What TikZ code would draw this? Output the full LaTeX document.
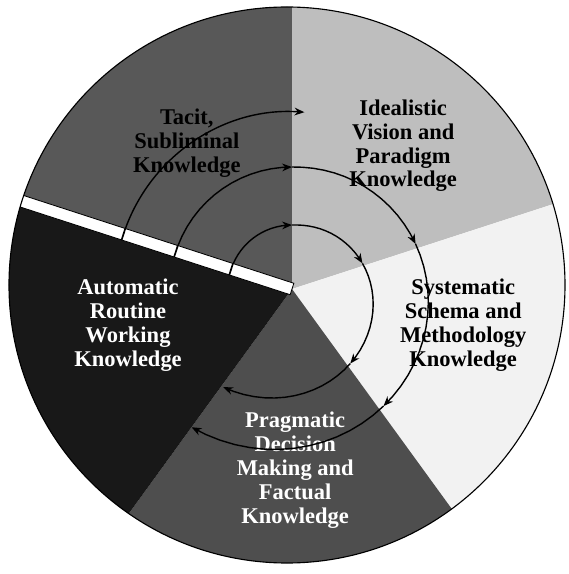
\documentclass[tikz,border=0pt]{standalone}
\usepackage{fontspec}
\setmainfont{Liberation Serif}
\usetikzlibrary{arrows.meta}
\definecolor{tacitgris}{RGB}{88,88,88}
\definecolor{idealgris}{RGB}{190,190,190}
\definecolor{sistgris}{RGB}{242,242,242}
\definecolor{pragmagris}{RGB}{78,78,78}
\definecolor{autogris}{RGB}{24,24,24}
\tikzset{
  espiral/.style={line width=1pt, -{Stealth[length=7pt,width=5.5pt]}},
  rotulo/.style={font=\fontsize{16}{17}\selectfont\bfseries, align=center},
  barra/.style={fill=white, draw=black, line width=0.6pt},
}
\begin{document}
\begin{tikzpicture}[declare function={crece(\t,\k)=\k*(max(0.001,90-\t))^1.45;}]
        \useasboundingbox (-7.3,-7.125) rectangle (6.9,7.225);
        \coordinate (c) at (0,0);
        \coordinate (m) at (-0.125,0.1);
        % Sectores del circulo
        \begin{scope}
          \clip (m) circle (6.95);
          \fill[tacitgris] (c) -- (90:9) arc (90:162:9) -- cycle;
          \fill[idealgris] (c) -- (18:9) arc (18:90:9) -- cycle;
          \fill[sistgris] (c) -- (-54:9) arc (-54:18:9) -- cycle;
          \fill[pragmagris] (c) -- (-126:9) arc (-126:-54:9) -- cycle;
          \fill[autogris] (c) -- (162:9) arc (162:234:9) -- cycle;
          \draw[barra, rotate=162] (0,-0.15) rectangle (9,0.15);
          \draw[line width=1.2pt, rotate=162] (1.6,-0.15) -- (1.6,0.15);
          \draw[line width=1.2pt, rotate=162] (3.05,-0.15) -- (3.05,0.15);
          \draw[line width=1.2pt, rotate=162] (4.43,-0.15) -- (4.43,0.15);
        \end{scope}
        \draw[line width=0.8pt] (m) circle (6.95);
        \node[rotulo] (tacit) at (-2.63,3.65) {Tacit,\\Subliminal\\Knowledge};
        \node[rotulo] (ideal) at (2.78,3.58) {Idealistic\\Vision and\\Paradigm\\Knowledge};
        \node[rotulo] (sistem) at (4.28,-0.9) {Systematic\\Schema and\\Methodology\\Knowledge};
        \node[rotulo, text=white] (pragma) at (0.08,-4.53) {Pragmatic\\Decision\\Making and\\Factual\\Knowledge};
        \node[rotulo, text=white] (auto) at (-4.1,-0.9) {Automatic\\Routine\\Working\\Knowledge};
        % Espiral interior
        \draw[espiral] plot[domain=156.6:90, samples=15] (\x:{1.6+crece(\x,0.000585)});
        \draw[espiral] plot[domain=90:20, samples=15] (\x:{1.6+crece(\x,0.000585)});
        \draw[espiral] plot[domain=20:-52, samples=15] (\x:{1.6+crece(\x,0.000585)});
        \draw[espiral] plot[domain=-52:-125, samples=15] (\x:{1.6+crece(\x,0.000585)});
        % Espiral del medio
        \draw[espiral] plot[domain=159.2:90, samples=15] (\x:{3.05+crece(\x,0.0005)});
        \draw[espiral] plot[domain=90:20, samples=15] (\x:{3.05+crece(\x,0.0005)});
        \draw[espiral] plot[domain=20:-52, samples=15] (\x:{3.05+crece(\x,0.0005)});
        \draw[espiral] plot[domain=-52:-126, samples=15] (\x:{3.05+crece(\x,0.0005)});
        % Arco exterior
        \draw[espiral] (160:4.43) arc (160:86:4.43);
\end{tikzpicture}
\end{document}
